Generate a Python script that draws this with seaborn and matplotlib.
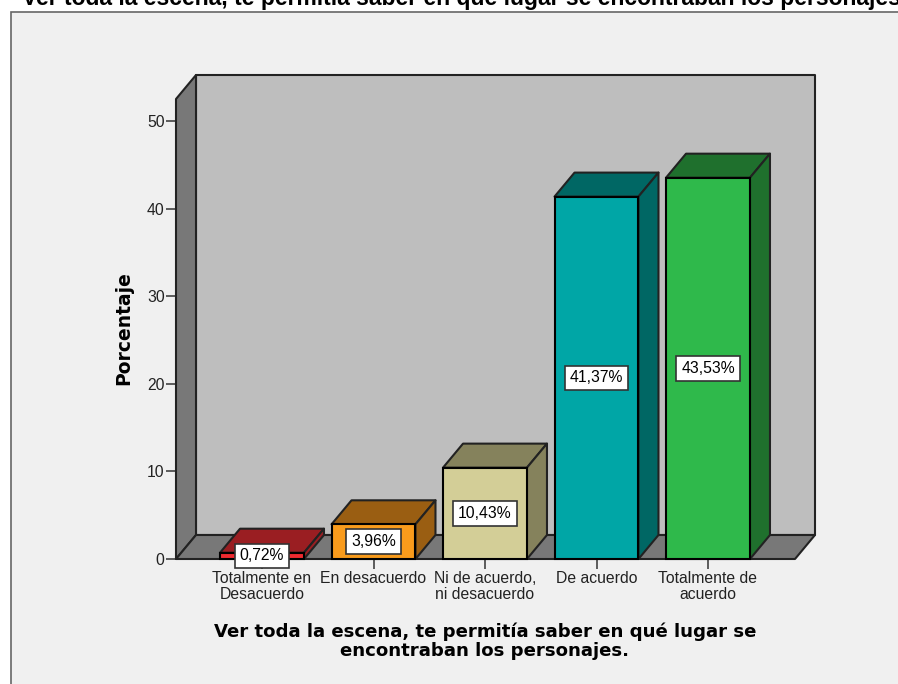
import matplotlib
matplotlib.use('Agg')
import matplotlib.pyplot as plt
import pandas as pd
import seaborn as sns
from matplotlib.patches import Polygon, Rectangle

categories = ['Totalmente en\nDesacuerdo', 'En desacuerdo', 'Ni de acuerdo,\nni desacuerdo',
              'De acuerdo', 'Totalmente de\nacuerdo']
percent = [0.72, 3.96, 10.43, 41.37, 43.53]
percent_labels = ['0,72%', '3,96%', '10,43%', '41,37%', '43,53%']
front_colors = ['#ee2a30', '#f99b1c', '#d3ce97', '#00a6a6', '#2fb94b']
side_colors = ['#9a1e22', '#9a5e12', '#85825c', '#006764', '#1f702d']
y_ticks = [0, 10, 20, 30, 40, 50]
page_title = 'Ver toda la escena, te permitía saber en qué lugar se encontraban los personajes'
x_title = 'Ver toda la escena, te permitía saber en qué lugar se\nencontraban los personajes.'

W, H = 898, 684
sns.set_style('white')
plt.rcParams['font.family'] = ['Liberation Sans', 'DejaVu Sans']

fig = plt.figure(figsize=(W / 100, H / 100), dpi=100, facecolor='white')

# panel behind the chart, runs off the right and bottom edge
fig.add_artist(Rectangle((11 / W, -0.01), 1, (H - 12) / H + 0.01, transform=fig.transFigure,
                         facecolor='#f0f0f0', edgecolor='#666666', linewidth=1.2, zorder=-5))
fig.text(22 / W, 1 - 5 / H, page_title, fontsize=16.5, fontweight='bold', color='black')

# axes = front plane of the 3D box
left, right, bottom, top = 176, 795, 559, 99
ax = fig.add_axes([left / W, 1 - bottom / H, (right - left) / W, (bottom - top) / H])
ax.patch.set_visible(False)

df = pd.DataFrame({'cat': categories, 'pct': percent})
sns.barplot(data=df, x='cat', y='pct', hue='cat', palette=front_colors, legend=False, width=0.753,
            edgecolor='black', linewidth=1.5, saturation=1, ax=ax, zorder=5)

x_min, x_max = (176 - 262) / 111.5, (795 - 262) / 111.5
y_max = 460 / 8.76
ax.set_xlim(x_min, x_max)
ax.set_ylim(0, y_max)

# depth of the box in data units
dx = 20 / 111.5
dy = 24 / 8.76


def poly(points, color, z, lw=1.5):
    ax.add_patch(Polygon(points, closed=True, facecolor=color, edgecolor='#222222', linewidth=lw,
                         clip_on=False, zorder=z, joinstyle='round'))


poly([(x_min + dx, dy), (x_max + dx, dy), (x_max + dx, y_max + dy), (x_min + dx, y_max + dy)], '#bebebe', 1)
poly([(x_min, 0), (x_min + dx, dy), (x_min + dx, y_max + dy), (x_min, y_max)], '#787878', 2)
poly([(x_min, 0), (x_max, 0), (x_max + dx, dy), (x_min + dx, dy)], '#787878', 2)

# top and side faces of each bar
for i, container in enumerate(ax.containers):
    bar = container[0]
    x0 = bar.get_x()
    x1 = x0 + bar.get_width()
    h = bar.get_height()
    poly([(x0, h), (x1, h), (x1 + dx, h + dy), (x0 + dx, h + dy)], side_colors[i], 4)
    poly([(x1, 0), (x1 + dx, dy), (x1 + dx, h + dy), (x1, h)], side_colors[i], 4)
    bar.set_clip_on(False)

# value boxes in the middle of the bars
for i, container in enumerate(ax.containers):
    ax.bar_label(container, labels=[percent_labels[i]], label_type='center', fontsize=11.3, color='black',
                 zorder=7, bbox=dict(boxstyle='square,pad=0.3', facecolor='white', edgecolor='#333333', linewidth=1.2))

ax.set_yticks(y_ticks)
ax.tick_params(axis='both', length=7.2, width=1.1, color='#333333', labelsize=11.3, labelcolor='#222222',
               left=True, bottom=True)
ax.tick_params(axis='x', pad=1.5)
ax.tick_params(axis='y', pad=1)
for lab in ax.get_xticklabels():
    lab.set_linespacing(1.1)
sns.despine(ax=ax, left=True, bottom=True, top=True, right=True)

ax.set_ylabel('')
ax.set_xlabel('')
fig.text(124 / W, 1 - 328 / H, 'Porcentaje', rotation=90, ha='center', va='center', fontsize=13.5,
         fontweight='bold', family='DejaVu Sans', color='black')
fig.text(485 / W, 1 - 641 / H, x_title, ha='center', va='center', fontsize=13.1, fontweight='bold',
         family='DejaVu Sans', linespacing=1.08, color='black')

fig.savefig('out.png', dpi=100)
